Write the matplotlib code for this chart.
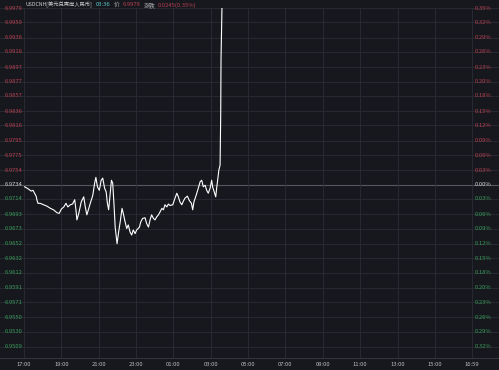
import matplotlib.pyplot as plt

plt.rcParams['font.family'] = ['Noto Sans CJK SC', 'DejaVu Sans']

# minutes after 17:00, USDCNH price
minutes = [2, 10, 17, 23, 29, 34, 39, 42, 45, 52, 63, 74, 85, 95, 106, 113, 120, 128, 135, 141,
           149, 156, 163, 167, 170, 176, 184, 192, 197, 202, 213, 221, 227, 231, 236, 242, 248, 253, 259, 264,
           268, 272, 276, 281, 285, 289, 293, 299, 304, 309, 315, 319, 325, 330, 335, 341, 346, 351, 357, 362,
           371, 375, 381, 389, 394, 400, 405, 410, 416, 421, 426, 432, 437, 443, 448, 453, 459, 464, 469, 478,
           485, 491, 496, 501, 507, 512, 517, 525, 531, 538, 542, 546, 553, 560, 566, 571, 576, 582, 587, 592,
           598, 603, 606, 611, 616, 619, 623, 626, 630, 632, 633, 636]
price = [6.9731, 6.9729, 6.9727, 6.9725, 6.9726, 6.9722, 6.9718, 6.9712, 6.9708, 6.9708, 6.9706, 6.9704, 6.9701, 6.9699, 6.9695, 6.9694, 6.9700, 6.9703, 6.9708, 6.9703,
         6.9706, 6.9707, 6.9713, 6.9699, 6.9685, 6.9694, 6.9710, 6.9717, 6.9703, 6.9692, 6.9708, 6.9719, 6.9736, 6.9744, 6.9731, 6.9726, 6.9740, 6.9743, 6.9729, 6.9724,
         6.9708, 6.9699, 6.9717, 6.9740, 6.9736, 6.9708, 6.9675, 6.9652, 6.9668, 6.9682, 6.9701, 6.9694, 6.9682, 6.9673, 6.9678, 6.9668, 6.9664, 6.9671, 6.9666, 6.9671,
         6.9675, 6.9682, 6.9687, 6.9688, 6.9680, 6.9675, 6.9685, 6.9692, 6.9687, 6.9685, 6.9689, 6.9692, 6.9696, 6.9701, 6.9699, 6.9706, 6.9703, 6.9707, 6.9705, 6.9706,
         6.9715, 6.9722, 6.9717, 6.9710, 6.9706, 6.9711, 6.9715, 6.9718, 6.9712, 6.9708, 6.9699, 6.9710, 6.9719, 6.9729, 6.9738, 6.9740, 6.9731, 6.9733, 6.9726, 6.9722,
         6.9729, 6.9740, 6.9731, 6.9724, 6.9717, 6.9729, 6.9743, 6.9754, 6.9761, 6.9831, 6.9907, 6.9979]

base = 6.9734
y_labels = ['6.9979', '6.9959', '6.9938', '6.9918', '6.9897', '6.9877', '6.9857', '6.9836', '6.9816', '6.9795',
            '6.9775', '6.9754', '6.9734', '6.9714', '6.9693', '6.9673', '6.9652', '6.9632', '6.9612', '6.9591',
            '6.9571', '6.9550', '6.9530', '6.9509']
pct_labels = ['0.35%', '0.32%', '0.29%', '0.26%', '0.23%', '0.20%', '0.18%', '0.15%', '0.12%', '0.09%',
              '0.06%', '0.03%', '0.00%', '0.03%', '0.06%', '0.09%', '0.12%', '0.15%', '0.18%', '0.20%',
              '0.23%', '0.26%', '0.29%', '0.32%']
x_ticks = [0, 120, 240, 360, 480, 600, 720, 840, 960, 1080, 1200, 1320, 1439]
x_labels = ['17:00', '19:00', '21:00', '23:00', '01:00', '03:00', '05:00', '07:00', '09:00', '11:00', '13:00', '15:00', '16:59']

bg = '#16181e'
grid = '#2a2d35'
red = '#b8404f'
green = '#3a9a58'

fig = plt.figure(figsize=(4.99, 3.70), dpi=100, facecolor=bg)
ax = fig.add_axes([0, 11 / 370, 1, 351 / 370])
ax.set_facecolor(bg)
ax.set_xlim(-77, 1526)
ax.set_ylim(6.9492, 6.9979)
for s in ax.spines.values():
    s.set_visible(False)
ax.set_xticks([])
ax.set_yticks([])

for lab in y_labels:
    v = float(lab)
    if lab == '6.9734':
        ax.axhline(v, color='#55585f', lw=0.8, zorder=1)
    else:
        ax.axhline(v, color=grid, lw=0.6, zorder=1)
for t in x_ticks:
    ax.axvline(t, color=grid, lw=0.6, zorder=1)
ax.axhline(6.9492, color='#3a3d45', lw=1.2, zorder=1)

for lab, pl in zip(y_labels, pct_labels):
    v = float(lab)
    if v > base + 1e-6:
        c = red
    elif v < base - 1e-6:
        c = green
    else:
        c = '#d0d0d0'
    ax.text(-62, v, lab, color=c, fontsize=4.2, ha='left', va='center', zorder=3)
    ax.text(1448, v, pl, color=c, fontsize=4.2, ha='left', va='center', zorder=3)

for t, lab in zip(x_ticks, x_labels):
    fig.text((24 + t * 448 / 1440) / 499, 6 / 370, lab, color='#bbbbbb', fontsize=4.2,
             ha='center', va='center')

ax.plot(minutes, price, color='white', lw=0.8, zorder=4)

# header
hy = 1 - 5 / 370
fig.text(26 / 499, hy, 'USDCNH[美元兑离岸人民币]', color='#cccccc', fontsize=3.8, va='center')
fig.text(96 / 499, hy, '03:36', color='#5cc8c8', fontsize=4.2, va='center')
fig.text(114 / 499, hy, '价', color='#aaaaaa', fontsize=4.2, va='center')
fig.text(123 / 499, hy, '6.9979', color=red, fontsize=4.2, va='center')
fig.text(144 / 499, hy, '涨跌', color='#aaaaaa', fontsize=4.2, va='center')
fig.text(158 / 499, hy, '0.0245(0.35%)', color=red, fontsize=4.2, va='center')

fig.savefig('out.png', dpi=100, facecolor=bg)
